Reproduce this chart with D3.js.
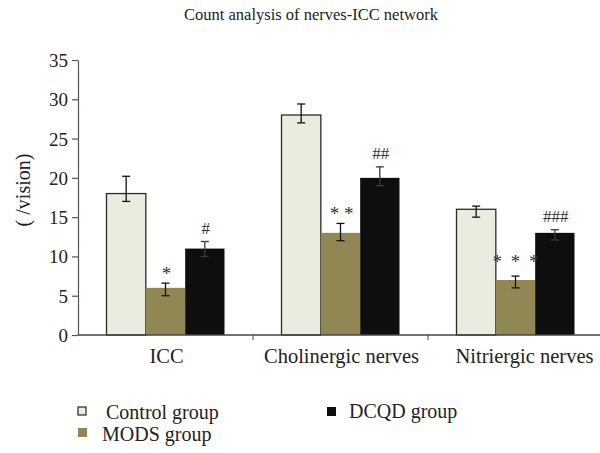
<!DOCTYPE html>
<html>
<head>
<meta charset="utf-8">
<script src="https://cdn.jsdelivr.net/npm/d3@7"></script>
<style>
  html, body { margin: 0; padding: 0; background: #fff; }
  svg { display: block; }
  svg text { font-family: "Liberation Serif", "DejaVu Serif", serif; }
</style>
</head>
<body>
<svg id="chart" width="600" height="453"></svg>
<script>
// Categories and groups
const categories = ["ICC", "Cholinergic nerves", "Nitriergic nerves"];
const groups = ["Control group", "MODS group", "DCQD group"];

// Mean counts per vision, one array per group (ICC, Cholinergic, Nitriergic)
const controlValues = [18, 28, 16];
const modsValues = [6, 13, 7];
const dcqdValues = [11, 20, 13];

// Error bar extents (upper and lower ends)
const controlHigh = [20.2, 29.4, 16.4];
const controlLow = [17.0, 27.0, 15.0];
const modsHigh = [6.6, 14.2, 7.5];
const modsLow = [5.0, 12.0, 6.0];
const dcqdHigh = [11.9, 21.4, 13.4];
const dcqdLow = [10.0, 19.0, 12.1];

// Significance marks above bars
const modsMarks = ["*", "* *", "* * *"];
const dcqdMarks = ["#", "##", "###"];

const yTicks = [0, 5, 10, 15, 20, 25, 30, 35];

const fills = ["#ecebe0", "#918755", "#0e0e0e"];

const series = [
  { values: controlValues, high: controlHigh, low: controlLow, marks: null },
  { values: modsValues, high: modsHigh, low: modsLow, marks: modsMarks },
  { values: dcqdValues, high: dcqdHigh, low: dcqdLow, marks: dcqdMarks }
];

const svg = d3.select("#chart");
const margin = { left: 78, right: 603, top: 60, bottom: 335 };

const x = d3.scaleBand().domain(categories).range([margin.left, margin.right]).padding(0);
const groupWidth = 118;
const xg = d3.scaleBand().domain(d3.range(groups.length)).range([0, groupWidth]).padding(0);
const y = d3.scaleLinear().domain([0, 35]).range([margin.bottom, margin.top]);

const barX = (c, gi) => x(c) + (x.bandwidth() - groupWidth) / 2 + xg(gi);

// Title
svg.append("text")
  .attr("x", 311).attr("y", 20)
  .attr("text-anchor", "middle")
  .attr("font-size", 16.5)
  .attr("fill", "#222")
  .text("Count analysis of nerves-ICC network");

// Y axis
const yAxis = svg.append("g")
  .attr("transform", `translate(${margin.left},0)`)
  .call(d3.axisLeft(y).tickValues(yTicks).tickSize(6).tickPadding(4).tickSizeOuter(0));
yAxis.attr("font-family", null);
yAxis.select(".domain").attr("stroke", "#555").attr("stroke-width", 1.2);
yAxis.selectAll(".tick line").attr("stroke", "#555").attr("stroke-width", 1.2);
yAxis.selectAll(".tick text")
  .attr("font-size", 19).attr("fill", "#222")
  .attr("dy", "0.34em");

// Y label
svg.append("text")
  .attr("transform", "translate(30,190) rotate(-90)")
  .attr("text-anchor", "middle")
  .attr("font-size", 20)
  .attr("fill", "#222")
  .text("( /vision)");

// Bars
series.forEach((s, gi) => {
  svg.append("g").selectAll("rect").data(categories).join("rect")
    .attr("x", c => barX(c, gi))
    .attr("y", (c, i) => y(s.values[i]))
    .attr("width", xg.bandwidth())
    .attr("height", (c, i) => y(0) - y(s.values[i]))
    .attr("fill", fills[gi])
    .attr("stroke", gi === 0 ? "#2a2a2a" : "none")
    .attr("stroke-width", 1.3);
});

// Error bars
series.forEach((s, gi) => {
  categories.forEach((c, i) => {
    const cx = barX(c, gi) + xg.bandwidth() / 2;
    const e = svg.append("g").attr("stroke", gi === 2 ? "#3a3a3a" : "#111").attr("stroke-width", 1.3);
    e.append("line").attr("x1", cx).attr("x2", cx).attr("y1", y(s.high[i])).attr("y2", y(s.low[i]));
    e.append("line").attr("x1", cx - 4).attr("x2", cx + 4).attr("y1", y(s.high[i])).attr("y2", y(s.high[i]));
    e.append("line").attr("x1", cx - 4).attr("x2", cx + 4).attr("y1", y(s.low[i])).attr("y2", y(s.low[i]));
  });
});

// Significance marks
series.forEach((s, gi) => {
  if (!s.marks) return;
  categories.forEach((c, i) => {
    const cx = barX(c, gi) + xg.bandwidth() / 2;
    const t = svg.append("text")
      .attr("x", cx + 1)
      .attr("text-anchor", "middle")
      .attr("fill", "#333")
      .text(s.marks[i]);
    if (gi === 1) {
      t.attr("font-size", 19)
        .attr("y", y(s.high[i]) - (i === 2 ? 8 : 3))
        .attr("letter-spacing", i === 2 ? 2 : 0);
    } else {
      t.attr("font-size", 17).attr("y", y(s.high[i]) - 8);
    }
  });
});

// X axis
const xAxis = svg.append("g")
  .attr("transform", `translate(0,${margin.bottom})`);
xAxis.append("line")
  .attr("x1", margin.left).attr("x2", 600)
  .attr("y1", 0).attr("y2", 0)
  .attr("stroke", "#444").attr("stroke-width", 1.3);
xAxis.selectAll("line.sep").data(categories.slice(1)).join("line")
  .attr("class", "sep")
  .attr("x1", c => x(c)).attr("x2", c => x(c))
  .attr("y1", 0).attr("y2", 5)
  .attr("stroke", "#444").attr("stroke-width", 1);
xAxis.selectAll("text").data(categories).join("text")
  .attr("x", c => x(c) + x.bandwidth() / 2 + (c === "Nitriergic nerves" ? 9 : 1))
  .attr("y", 28)
  .attr("text-anchor", "middle")
  .attr("font-size", 20.5)
  .attr("fill", "#222")
  .text(c => c);

// Legend
const legendPos = [
  { sx: 78, sy: 407, tx: 106, ty: 419 },
  { sx: 78, sy: 428, tx: 102, ty: 441 },
  { sx: 327, sy: 407, tx: 349, ty: 418 }
];
groups.forEach((name, gi) => {
  const p = legendPos[gi];
  svg.append("rect")
    .attr("x", p.sx).attr("y", p.sy)
    .attr("width", gi === 0 ? 8 : 9).attr("height", gi === 0 ? 8 : 9)
    .attr("fill", fills[gi])
    .attr("stroke", gi === 0 ? "#222" : "none")
    .attr("stroke-width", 1.2);
  svg.append("text")
    .attr("x", p.tx).attr("y", p.ty)
    .attr("font-size", 20)
    .attr("fill", "#222")
    .text(name);
});
</script>
</body>
</html>
